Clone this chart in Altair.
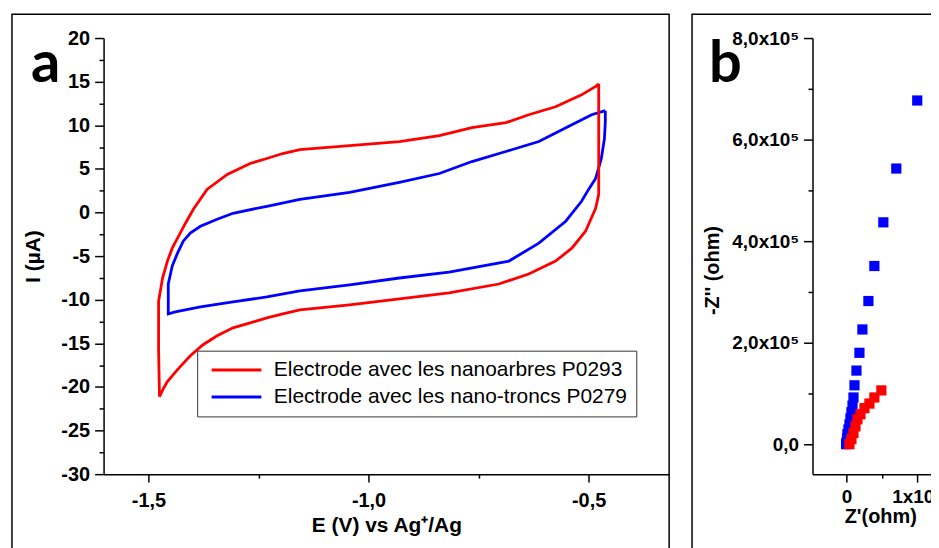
import altair as alt
import pandas as pd

FONT = "Liberation Sans"

# ---------------- Panel a : cyclic voltammetry ----------------
series_names = ["Electrode avec les nanoarbres P0293", "Electrode avec les nano-troncs P0279"]
series_colors = ["#FF0000", "#0000FF"]

red_E = [-0.477, -0.477, -0.477, -0.484, -0.507, -0.538, -0.575, -0.636, -0.704, -0.817,
         -0.930, -1.043, -1.156, -1.195, -1.231, -1.269, -1.308, -1.344, -1.376, -1.405,
         -1.434, -1.457, -1.466, -1.475, -1.477, -1.477, -1.473, -1.468, -1.457, -1.446,
         -1.434, -1.416, -1.398, -1.367, -1.321, -1.269, -1.231, -1.195, -1.156, -1.043,
         -0.930, -0.839, -0.765, -0.688, -0.636, -0.575, -0.516, -0.482, -0.477]
red_I = [14.75, 8.13, 2.08, 0.48, -2.15, -4.09, -5.57, -7.05, -8.20, -9.22,
         -9.91, -10.59, -11.16, -11.62, -12.08, -12.65, -13.22, -14.13, -15.16, -16.42,
         -18.01, -19.38, -20.18, -21.10, -15.84, -10.14, -9.00, -7.51, -5.57, -4.09,
         -2.95, -1.23, 0.37, 2.65, 4.36, 5.62, 6.19, 6.76, 7.21, 7.67,
         8.13, 8.81, 9.73, 10.30, 11.21, 12.12, 13.49, 14.52, 14.75]

blue_E = [-0.462, -0.462, -0.464, -0.471, -0.484, -0.500, -0.516, -0.552, -0.613, -0.681,
          -0.817, -0.930, -1.043, -1.156, -1.231, -1.308, -1.382, -1.439, -1.455, -1.455,
          -1.450, -1.446, -1.434, -1.421, -1.405, -1.382, -1.344, -1.308, -1.231, -1.156,
          -1.043, -0.930, -0.839, -0.765, -0.688, -0.613, -0.538, -0.493, -0.462]
blue_I = [11.67, 10.41, 8.47, 6.19, 3.90, 2.65, 1.28, -1.00, -3.52, -5.57,
          -6.83, -7.51, -8.31, -9.00, -9.68, -10.25, -10.82, -11.39, -11.62, -8.20,
          -7.05, -6.14, -4.66, -3.29, -2.37, -1.58, -0.78, -0.09, 0.71, 1.51,
          2.31, 3.45, 4.47, 5.84, 6.99, 8.13, 10.07, 11.21, 11.67]

x_a_ticks = [-1.5, -1.25, -1.0, -0.75, -0.5]
y_a_ticks = [-30, -27.5, -25, -22.5, -20, -17.5, -15, -12.5, -10, -7.5, -5, -2.5,
             0, 2.5, 5, 7.5, 10, 12.5, 15, 17.5, 20]

# ---------------- Panel b : Nyquist plot ----------------
blue_zre = [100000, 70400, 52100, 39400, 31000, 22500, 18300, 14100, 11300, 9900,
            8500, 7000, 5600, 4200, 2800, 1400, 1000, 500, 0, -500]
blue_zim = [677000, 543000, 437000, 351000, 282000, 226000, 180000, 145000, 116000, 92000,
            76000, 63000, 51000, 39000, 29000, 20000, 12000, 6000, 2000, 0]
red_zre = [49300, 39400, 32400, 25400, 19700, 15500, 12700, 9900, 7000, 4200]
red_zim = [106000, 92000, 80000, 71000, 59000, 49000, 35000, 22000, 10000, 0]

x_b_ticks = [0, 50000, 100000]
y_b_ticks = [0, 100000, 200000, 300000, 400000, 500000, 600000, 700000, 800000]

# ---------------- data frames ----------------
df_a = pd.concat([
    pd.DataFrame({"E": blue_E, "I": blue_I, "serie": series_names[1], "idx": range(len(blue_E))}),
    pd.DataFrame({"E": red_E, "I": red_I, "serie": series_names[0], "idx": range(len(red_E))}),
], ignore_index=True)
df_b_blue = pd.DataFrame({"zre": blue_zre, "zim": blue_zim})
df_b_red = pd.DataFrame({"zre": red_zre, "zim": red_zim})

WA, H = 568, 438
WB = 140
one = alt.Data(values=[{}])

# ---------------- chart a ----------------
major_x_a = "abs(datum.value*2-round(datum.value*2))<0.001"
xa = alt.X("E:Q", scale=alt.Scale(domain=[-1.602, -0.317], nice=False, zero=False),
           axis=alt.Axis(values=x_a_ticks, title="E (V) vs Ag⁺/Ag",
                         labelExpr=major_x_a + " ? (datum.value<0?'-':'') + replace(format(abs(datum.value),'.1f'),'.',',') : ''",
                         tickSize={"condition": {"test": major_x_a, "value": 8}, "value": 4},
                         labelFontSize=20, labelPadding=8, titleFontSize=21,
                         titleY=41, titleBaseline="top"))
ya = alt.Y("I:Q", scale=alt.Scale(domain=[-30, 20], nice=False, zero=False),
           axis=alt.Axis(values=y_a_ticks, title="I (µA)",
                         labelExpr="datum.value % 5 == 0 ? (datum.value<0?'-':'') + abs(datum.value) : ''",
                         tickSize={"condition": {"test": "datum.value % 5 == 0", "value": 9}, "value": 4.5},
                         labelFontSize=20, labelPadding=5, titleFontSize=21,
                         titleX=-60, titleY=219, titleAngle=-90, titleBaseline="bottom", titleAlign="center"))

lines = alt.Chart(df_a).mark_line(strokeWidth=2.8).encode(
    x=xa, y=ya,
    color=alt.Color("serie:N", scale=alt.Scale(domain=series_names, range=series_colors),
                    legend=alt.Legend(title=None, orient="none", legendX=94, legendY=314,
                                      strokeColor="#333333", fillColor="white", padding=9,
                                      symbolType="M-1,0H9", symbolSize=100, symbolStrokeWidth=3,
                                      labelFont=FONT, labelFontSize=21, labelOffset=47,
                                      labelLimit=700, rowPadding=5, labelColor="black")),
    order="idx:Q",
)
frame_a = alt.Chart(one).mark_rect(fill="transparent", stroke="black", strokeWidth=1.5).encode(
    x=alt.value(-92), x2=alt.value(WA), y=alt.value(-24), y2=alt.value(H + 80))
letter_a = alt.Chart(one).mark_text(text="a", font="Lato", fontSize=58, fontWeight="bold",
                                    align="left", baseline="alphabetic", color="black").encode(
    x=alt.value(-73), y=alt.value(44))
chart_a = alt.layer(frame_a, lines, letter_a).properties(width=WA, height=H)

# ---------------- chart b ----------------
xb = alt.X("zre:Q", scale=alt.Scale(domain=[-48000, 149000], nice=False, zero=False),
           axis=alt.Axis(values=x_b_ticks, title="Z'(ohm)",
                         labelExpr="datum.value == 0 ? '0' : (datum.value == 100000 ? '1x10⁵' : '')",
                         tickSize={"condition": {"test": "datum.value % 100000 == 0", "value": 8}, "value": 4},
                         labelFontSize=19, labelPadding=5, titleFontSize=20,
                         titleX=68, titleY=33, titleBaseline="top"))
yb = alt.Y("zim:Q", scale=alt.Scale(domain=[-59000, 800000], nice=False, zero=False),
           axis=alt.Axis(values=y_b_ticks, title="-Z'' (ohm)",
                         labelExpr="datum.value == 0 ? '0,0' : (datum.value % 200000 == 0 ? replace(format(datum.value/100000,'.1f'),'.',',') + 'x10⁵' : '')",
                         tickSize={"condition": {"test": "datum.value % 200000 == 0", "value": 9}, "value": 4.5},
                         labelFontSize=19, labelPadding=5, titleFontSize=20,
                         titleX=-90, titleY=233, titleAngle=-90, titleBaseline="bottom", titleAlign="center"))

pts_blue = alt.Chart(df_b_blue).mark_square(size=105, color="#0000FF", opacity=1).encode(x=xb, y=yb)
pts_red = alt.Chart(df_b_red).mark_square(size=105, color="#FF0000", opacity=1).encode(x=xb, y=yb)
frame_b = alt.Chart(one).mark_rect(fill="transparent", stroke="black", strokeWidth=1.5).encode(
    x=alt.value(-121), x2=alt.value(WB + 20), y=alt.value(-24), y2=alt.value(H + 80))
letter_b = alt.Chart(one).mark_text(text="b", font="Lato", fontSize=58, fontWeight="bold",
                                    align="left", baseline="alphabetic", color="black").encode(
    x=alt.value(-104), y=alt.value(44))
chart_b = alt.layer(frame_b, pts_blue, pts_red, letter_b).properties(width=WB, height=H)

chart = (
    alt.hconcat(chart_a, chart_b, spacing=19)
    .properties(padding={"left": 2, "top": 3, "right": -43, "bottom": -7})
    .configure_view(stroke="transparent")
    .configure_axis(domainColor="black", domainWidth=1.5, tickColor="black", tickWidth=1.5,
                    labelFont=FONT, labelFontWeight="bold", labelColor="black",
                    titleFont=FONT, titleFontWeight="bold", titleColor="black",
                    grid=False, labelOverlap=False, labelFlush=False)
)

chart.save("out.html", embed_options={"renderer": "svg", "actions": False})
